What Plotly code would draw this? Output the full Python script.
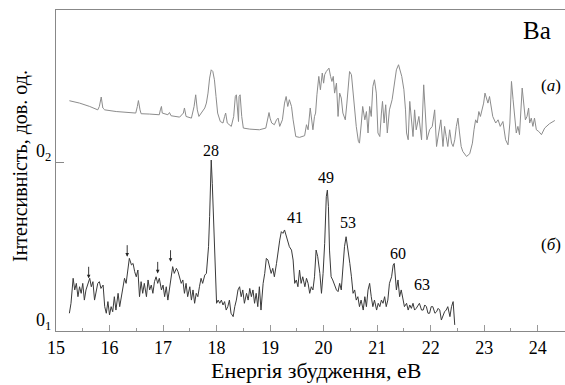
import plotly.graph_objects as go

# ---- data (energies in eV, intensities in arbitrary units) ----
# spectrum (б): baseline 0_1 = 0
lower_x = [
    15.25, 15.28, 15.32, 15.35, 15.38, 15.41, 15.44, 15.47, 15.50, 15.53,
    15.56, 15.60, 15.63, 15.66, 15.69, 15.72, 15.75, 15.78, 15.81, 15.84,
    15.88, 15.91, 15.94, 15.97, 16.00, 16.03, 16.06, 16.09, 16.12, 16.16,
    16.19, 16.22, 16.25, 16.28, 16.31, 16.34, 16.37, 16.41, 16.44, 16.47,
    16.50, 16.53, 16.56, 16.59, 16.62, 16.65, 16.69, 16.72, 16.75, 16.78,
    16.81, 16.84, 16.87, 16.90, 16.93, 16.97, 17.00, 17.03, 17.06, 17.09,
    17.12, 17.15, 17.18, 17.21, 17.25, 17.28, 17.31, 17.34, 17.37, 17.40,
    17.43, 17.46, 17.50, 17.53, 17.56, 17.59, 17.62, 17.65, 17.68, 17.71,
    17.74, 17.78, 17.81, 17.83, 17.85, 17.87, 17.89, 17.90, 17.92,
    17.94, 17.96, 17.98, 18.00, 18.03, 18.06, 18.09, 18.12, 18.15, 18.18, 18.21,
    18.24, 18.27, 18.31, 18.34, 18.37, 18.40, 18.43, 18.46, 18.49, 18.52,
    18.56, 18.59, 18.62, 18.65, 18.68, 18.71, 18.74, 18.77, 18.80, 18.83,
    18.87, 18.90, 18.93, 18.96, 18.99, 19.02, 19.05, 19.08, 19.12, 19.15,
    19.18, 19.21, 19.24, 19.27, 19.30, 19.33, 19.36, 19.40, 19.43,
    19.46, 19.49, 19.52, 19.55, 19.58, 19.61, 19.65, 19.68, 19.71, 19.74,
    19.77, 19.80, 19.83, 19.86, 19.89, 19.93, 19.96, 19.99, 20.02, 20.05,
    20.07, 20.09, 20.11, 20.14, 20.17, 20.21, 20.24, 20.27, 20.30, 20.33,
    20.36, 20.39, 20.42, 20.45, 20.49, 20.52, 20.55, 20.58, 20.61, 20.64,
    20.67, 20.70, 20.74, 20.77, 20.80, 20.83, 20.86, 20.89, 20.92, 20.95,
    20.99, 21.02, 21.05, 21.08, 21.11, 21.14, 21.17, 21.20, 21.23, 21.27,
    21.30, 21.32, 21.34, 21.36, 21.39, 21.42, 21.45, 21.48, 21.51, 21.55, 21.58,
    21.61, 21.64, 21.67, 21.70, 21.73, 21.76, 21.79, 21.83, 21.86, 21.89,
    21.92, 21.95, 21.98, 22.01, 22.04, 22.08, 22.11, 22.14, 22.17, 22.20,
    22.23, 22.26, 22.29, 22.32, 22.36, 22.39, 22.42, 22.45,
]
lower_y = [
    0.105, 0.164, 0.312, 0.243, 0.282, 0.203, 0.262, 0.223, 0.282, 0.183,
    0.243, 0.282, 0.312, 0.262, 0.292, 0.183, 0.243, 0.282, 0.292, 0.252,
    0.272, 0.144, 0.105, 0.174, 0.095, 0.144, 0.114, 0.203, 0.124, 0.223,
    0.144, 0.203, 0.243, 0.312, 0.282, 0.361, 0.430, 0.391, 0.400, 0.351,
    0.321, 0.361, 0.203, 0.292, 0.223, 0.282, 0.203, 0.302, 0.243, 0.272,
    0.223, 0.292, 0.321, 0.282, 0.312, 0.243, 0.272, 0.203, 0.262, 0.183,
    0.243, 0.321, 0.381, 0.341, 0.371, 0.351, 0.321, 0.282, 0.302, 0.223,
    0.282, 0.203, 0.262, 0.183, 0.243, 0.164, 0.223, 0.203, 0.262, 0.312,
    0.282, 0.331, 0.341, 0.420, 0.499, 0.677, 0.874, 1.012, 0.874,
    0.677, 0.420, 0.243, 0.164, 0.183, 0.164, 0.183, 0.154, 0.174, 0.124, 0.144,
    0.183, 0.105, 0.085, 0.144, 0.183, 0.243, 0.262, 0.203, 0.243, 0.164,
    0.223, 0.183, 0.252, 0.203, 0.243, 0.164, 0.223, 0.144, 0.262, 0.124,
    0.282, 0.341, 0.430, 0.420, 0.381, 0.341, 0.371, 0.321, 0.400, 0.479,
    0.538, 0.588, 0.578, 0.598, 0.568, 0.538, 0.499, 0.479, 0.420,
    0.282, 0.302, 0.262, 0.361, 0.282, 0.321, 0.262, 0.312, 0.282, 0.223,
    0.262, 0.243, 0.321, 0.479, 0.440, 0.341, 0.223, 0.341, 0.519, 0.795,
    0.834, 0.736, 0.479, 0.321, 0.302, 0.262, 0.243, 0.233, 0.282, 0.243,
    0.381, 0.499, 0.558, 0.499, 0.400, 0.321, 0.223, 0.243, 0.183, 0.203,
    0.144, 0.183, 0.124, 0.203, 0.144, 0.243, 0.282, 0.203, 0.144, 0.183,
    0.124, 0.164, 0.144, 0.183, 0.164, 0.203, 0.144, 0.183, 0.282, 0.321,
    0.391, 0.400, 0.341, 0.243, 0.302, 0.203, 0.243, 0.183, 0.144, 0.164, 0.124,
    0.154, 0.134, 0.164, 0.124, 0.134, 0.154, 0.164, 0.124, 0.124, 0.154,
    0.144, 0.105, 0.105, 0.144, 0.144, 0.105, 0.114, 0.134, 0.124, 0.065,
    0.095, 0.114, 0.124, 0.144, 0.085, 0.144, 0.174, 0.036,
]

# spectrum (а): intensity relative to its own baseline 0_2
upper_x = [
    15.25, 15.44, 15.63, 15.78, 15.81, 15.845, 15.875, 15.91, 16.125, 16.31,
    16.49, 16.52, 16.54, 16.57, 16.59, 16.75, 16.93, 16.95, 16.97, 16.985,
    17.09, 17.12, 17.15, 17.31, 17.38, 17.40, 17.43, 17.53, 17.58, 17.61,
    17.64, 17.67, 17.73, 17.78, 17.81, 17.84, 17.87, 17.90, 17.93, 17.96,
    17.99, 18.02, 18.07, 18.12, 18.15, 18.17, 18.20, 18.275, 18.32, 18.35,
    18.37, 18.39, 18.41, 18.42, 18.44, 18.47, 18.50, 18.62, 18.80, 18.92,
    18.95, 18.98, 19.00, 19.03, 19.08, 19.12, 19.15, 19.18, 19.23, 19.27,
    19.30, 19.33, 19.36, 19.40, 19.43, 19.48, 19.55, 19.645, 19.68, 19.71,
    19.75, 19.78, 19.80, 19.83, 19.85, 19.875, 19.91, 19.94, 19.975, 20.00,
    20.02, 20.05, 20.10, 20.13, 20.155, 20.18, 20.205, 20.24, 20.27, 20.30,
    20.33, 20.36, 20.405, 20.435, 20.46, 20.485, 20.52, 20.54, 20.57, 20.61,
    20.65, 20.67, 20.705, 20.73, 20.77, 20.80, 20.83, 20.86, 20.89, 20.92,
    20.95, 20.985, 21.015, 21.05, 21.08, 21.10, 21.13, 21.16, 21.19, 21.23,
    21.28, 21.33, 21.36, 21.40, 21.43, 21.46, 21.50, 21.53, 21.55, 21.58,
    21.61, 21.64, 21.67, 21.70, 21.73, 21.78, 21.83, 21.87, 21.90, 21.93,
    21.98, 22.03, 22.075, 22.11, 22.15, 22.19, 22.23, 22.26, 22.29, 22.32,
    22.355, 22.39, 22.42, 22.45, 22.48, 22.51, 22.54, 22.57, 22.60, 22.67,
    22.73, 22.78, 22.81, 22.84, 22.87, 22.90, 22.93, 22.97, 22.99, 23.015,
    23.04, 23.07, 23.10, 23.13, 23.16, 23.215, 23.26, 23.30, 23.35, 23.40,
    23.445, 23.48, 23.51, 23.54, 23.57, 23.60, 23.63, 23.66, 23.71, 23.74,
    23.77, 23.80, 23.83, 23.85, 23.88, 23.91, 23.94, 23.975, 24.02, 24.07,
    24.13, 24.22, 24.32,
]
upper_y = [
    0.363, 0.349, 0.329, 0.309, 0.329, 0.385, 0.320, 0.309, 0.299, 0.293,
    0.290, 0.329, 0.364, 0.309, 0.286, 0.284, 0.280, 0.309, 0.329, 0.290,
    0.280, 0.293, 0.274, 0.266, 0.290, 0.320, 0.270, 0.260, 0.329, 0.398,
    0.309, 0.270, 0.299, 0.320, 0.349, 0.408, 0.497, 0.546, 0.536, 0.487,
    0.388, 0.290, 0.240, 0.231, 0.270, 0.290, 0.231, 0.211, 0.270, 0.388,
    0.398, 0.309, 0.240, 0.388, 0.398, 0.270, 0.201, 0.195, 0.191, 0.201,
    0.250, 0.293, 0.260, 0.231, 0.221, 0.250, 0.260, 0.211, 0.250, 0.349,
    0.388, 0.329, 0.369, 0.329, 0.250, 0.151, 0.146, 0.156, 0.221, 0.191,
    0.320, 0.240, 0.191, 0.270, 0.290, 0.398, 0.507, 0.428, 0.527, 0.467,
    0.517, 0.536, 0.556, 0.507, 0.477, 0.507, 0.408, 0.467, 0.270, 0.408,
    0.379, 0.290, 0.250, 0.349, 0.467, 0.536, 0.517, 0.447, 0.349, 0.211,
    0.122, 0.112, 0.231, 0.329, 0.250, 0.299, 0.172, 0.329, 0.270, 0.447,
    0.487, 0.408, 0.172, 0.151, 0.290, 0.359, 0.231, 0.339, 0.172, 0.309,
    0.369, 0.467, 0.546, 0.576, 0.546, 0.507, 0.428, 0.309, 0.172, 0.132,
    0.359, 0.270, 0.151, 0.309, 0.191, 0.270, 0.132, 0.457, 0.270, 0.132,
    0.191, 0.211, 0.309, 0.092, 0.172, 0.250, 0.092, 0.211, 0.151, 0.092,
    0.191, 0.112, 0.092, 0.132, 0.211, 0.260, 0.172, 0.092, 0.063, 0.033,
    0.049, 0.112, 0.191, 0.250, 0.231, 0.299, 0.270, 0.329, 0.349, 0.408,
    0.379, 0.349, 0.388, 0.339, 0.270, 0.231, 0.250, 0.211, 0.240, 0.132,
    0.102, 0.231, 0.477, 0.369, 0.270, 0.172, 0.211, 0.162, 0.438, 0.349,
    0.250, 0.270, 0.320, 0.231, 0.260, 0.211, 0.260, 0.191, 0.181, 0.162,
    0.201, 0.227, 0.246,
]
offset_a = 1.0  # vertical position of baseline 0_2

peak_labels = ["28", "41", "49", "53", "60", "63"]
peak_x = [17.90, 19.46, 20.05, 20.45, 21.39, 21.845]
peak_y = [1.066, 0.673, 0.909, 0.643, 0.456, 0.278]

arrow_x = [15.61, 16.33, 16.90, 17.14]
arrow_y = [0.312, 0.440, 0.341, 0.410]

x_ticks = [15, 16, 17, 18, 19, 20, 21, 22, 23, 24]
y_ticks = [0, 1]
y_ticktext = ["0<sub>1</sub>", "0<sub>2</sub>"]

FONT = "Liberation Serif, Times New Roman, DejaVu Serif, serif"

fig = go.Figure()
fig.add_trace(go.Scatter(
    x=upper_x, y=[v + offset_a for v in upper_y], mode="lines",
    line=dict(color="#8c8c8c", width=1), hoverinfo="skip"))
fig.add_trace(go.Scatter(
    x=lower_x, y=lower_y, mode="lines",
    line=dict(color="#3a3a3a", width=1), hoverinfo="skip"))


def label(x, y, text, size, ref="paper", angle=0):
    return dict(x=x, y=y, xref=ref if ref == "paper" else "x",
                yref=ref if ref == "paper" else "y", text=text,
                showarrow=False, xanchor="center", yanchor="middle",
                textangle=angle,
                font=dict(family=FONT, size=size, color="black"))


ann = []
for t, xv, yv in zip(peak_labels, peak_x, peak_y):
    ann.append(label(xv, yv, t, 16, ref="data"))
for xv, yv in zip(arrow_x, arrow_y):
    ann.append(dict(x=xv, y=yv, xref="x", yref="y", text="", showarrow=True,
                    ax=0, ay=-13, arrowhead=2, arrowsize=0.8, arrowwidth=0.9,
                    arrowcolor="#222222"))
ann.append(label(0.945, 0.935, "Ba", 25))
ann.append(label(0.972, 0.766, "(<i>а</i>)", 17))
ann.append(label(0.972, 0.271, "(<i>б</i>)", 17))
ann.append(label(0.511, -0.1246, "Енергія збудження, еВ", 22))
ann.append(label(-0.0707, 0.514, "Інтенсивність, дов. од.", 20, angle=-90))

fig.update_layout(
    width=565, height=385,
    margin=dict(l=56, r=0, t=10, b=54),
    paper_bgcolor="white", plot_bgcolor="white",
    showlegend=False,
    font=dict(family=FONT, color="black"),
    annotations=ann,
    xaxis=dict(range=[15, 24.51], tickmode="array", tickvals=x_ticks,
               ticks="inside", ticklen=6, tickcolor="#999999",
               showline=True, linecolor="#888888", linewidth=1, mirror=True,
               showgrid=False, zeroline=False,
               tickfont=dict(family=FONT, size=18, color="black"),
               minor=dict(dtick=0.5, tick0=15, ticks="inside", ticklen=3,
                          tickcolor="#999999", showgrid=False)),
    yaxis=dict(range=[0, 1.9], tickmode="array", tickvals=y_ticks,
               ticktext=y_ticktext, ticks="inside", ticklen=8,
               tickcolor="#888888", ticklabelshift=-11,
               showline=True, linecolor="#888888", linewidth=1,
               showgrid=False, zeroline=False,
               tickfont=dict(family=FONT, size=18, color="black")),
)

# remove the page's default 8px body margin so the figure fills the window
fig.write_html(
    "out.html",
    config={"displayModeBar": False},
    post_script="document.body.style.margin='0';"
                "document.body.style.overflow='hidden';",
)
